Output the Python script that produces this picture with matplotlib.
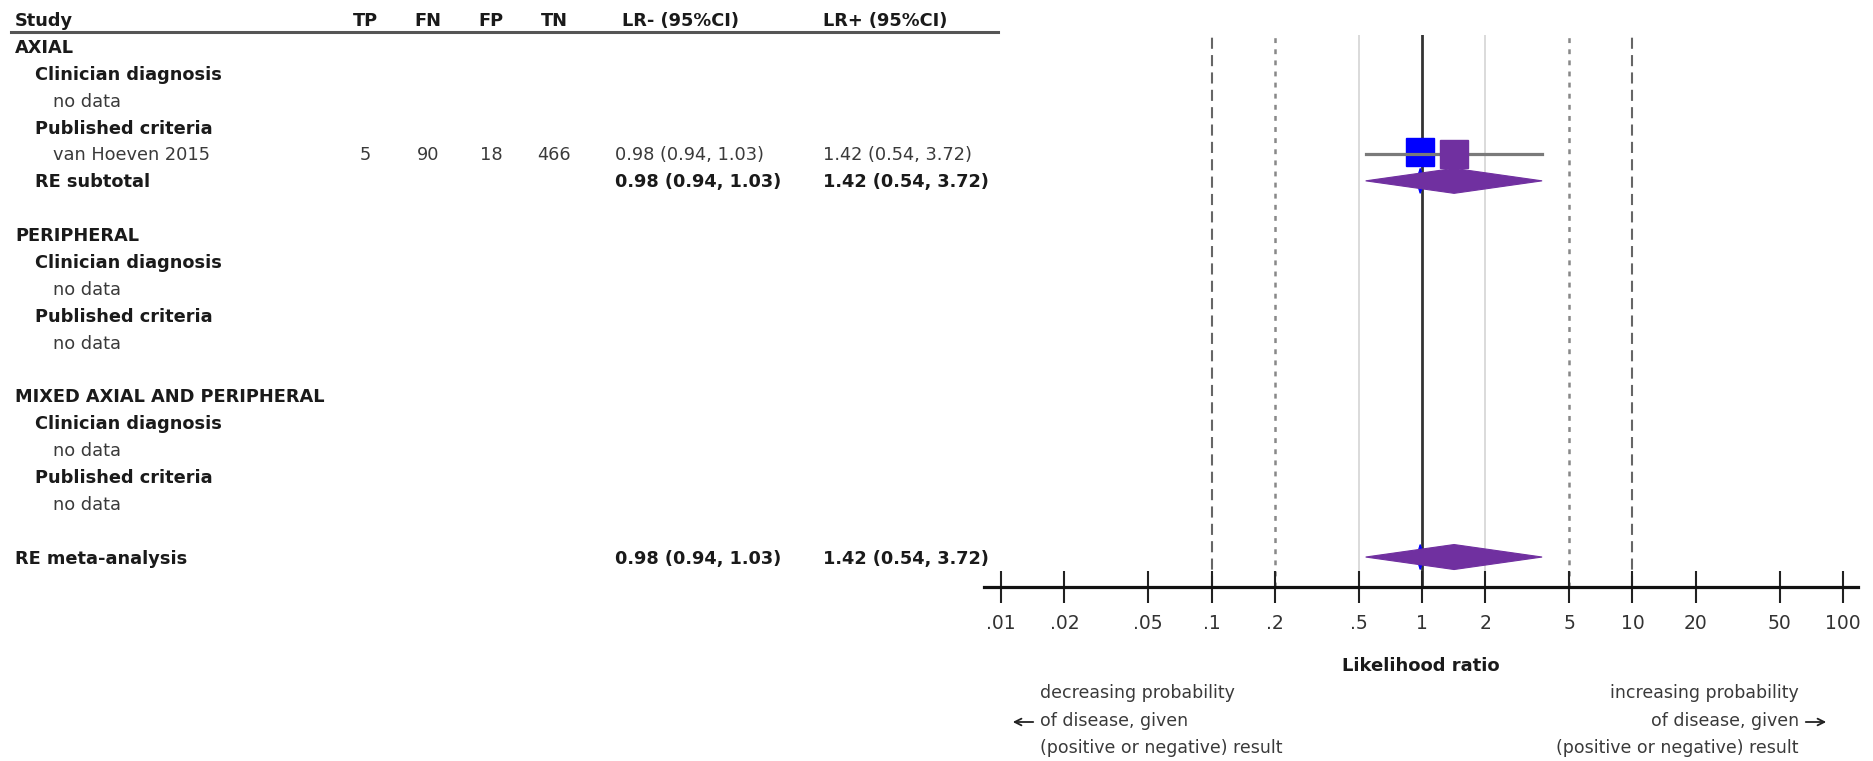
import matplotlib
matplotlib.use("Agg")
import matplotlib.pyplot as plt
from matplotlib.transforms import blended_transform_factory
from matplotlib.patches import Polygon, FancyArrowPatch
from matplotlib.lines import Line2D
from matplotlib.ticker import NullLocator

# ---------------- data ----------------
row_labels = ["AXIAL", "Clinician diagnosis", "no data", "Published criteria",
              "van Hoeven 2015", "RE subtotal", "",
              "PERIPHERAL", "Clinician diagnosis", "no data", "Published criteria", "no data", "",
              "MIXED AXIAL AND PERIPHERAL", "Clinician diagnosis", "no data", "Published criteria", "no data", "",
              "RE meta-analysis"]
row_kinds = ["group", "sub", "nodata", "sub", "study", "subtotal", "blank",
             "group", "sub", "nodata", "sub", "nodata", "blank",
             "group", "sub", "nodata", "sub", "nodata", "blank",
             "overall"]

study_names = ["van Hoeven 2015"]
tp = [5]
fn = [90]
fp = [18]
tn = [466]
lr_neg = [0.98]
lr_neg_lo = [0.94]
lr_neg_hi = [1.03]
lr_pos = [1.42]
lr_pos_lo = [0.54]
lr_pos_hi = [3.72]

subtotal_neg = [0.98, 0.94, 1.03]
subtotal_pos = [1.42, 0.54, 3.72]
overall_neg = [0.98, 0.94, 1.03]
overall_pos = [1.42, 0.54, 3.72]

tick_vals = [0.01, 0.02, 0.05, 0.1, 0.2, 0.5, 1, 2, 5, 10, 20, 50, 100]
tick_labels = [".01", ".02", ".05", ".1", ".2", ".5", "1", "2", "5", "10", "20", "50", "100"]

headers = ["Study", "TP", "FN", "FP", "TN", "LR- (95%CI)", "LR+ (95%CI)"]

# ---------------- layout ----------------
W, H = 1874, 761
plt.rcParams['font.family'] = ['DejaVu Sans']
plt.rcParams['lines.scale_dashes'] = False
fig = plt.figure(figsize=(W / 100, H / 100), dpi=100)

ax_left, ax_right, ax_top, ax_bottom = 984, 1858, 35, 587
ax = fig.add_axes([ax_left / W, 1 - ax_bottom / H, (ax_right - ax_left) / W, (ax_bottom - ax_top) / H])
ax.set_xscale('log')
ax.set_xlim(10 ** -2.081, 10 ** 2.0714)
row0, row_h = 46.5, 26.87
ax.set_ylim((ax_bottom - row0) / row_h, -(row0 - ax_top) / row_h)

for s in ['top', 'left', 'right']:
    ax.spines[s].set_visible(False)
ax.spines['bottom'].set_linewidth(2.3)
ax.spines['bottom'].set_color('#111111')
ax.set_yticks([])
ax.set_xticks(tick_vals)
ax.set_xticklabels(tick_labels)
ax.xaxis.set_minor_locator(NullLocator())
ax.tick_params(axis='x', direction='inout', length=23, width=1.5, pad=8,
               labelsize=13.5, color='#222222', labelcolor='#333333')
ax.patch.set_visible(False)

# reference lines
ref_lines = [(0.1, 'dash'), (0.2, 'dot'), (0.5, 'light'), (1, 'solid'),
             (2, 'light'), (5, 'dot'), (10, 'dash')]
for v, kind in ref_lines:
    if kind == 'dash':
        ax.axvline(v, color='#666666', lw=1.5, linestyle=(0, (8, 4.5)), zorder=1)
    elif kind == 'dot':
        ax.axvline(v, color='#888888', lw=1.8, linestyle=(0, (3.5, 4.5)), zorder=1)
    elif kind == 'light':
        ax.axvline(v, color='#d4d4d4', lw=1.2, zorder=1)
    else:
        ax.axvline(v, color='#333333', lw=2.0, zorder=1)

purple = '#7030A0'
blue = '#0000FF'
dh = 0.465


def diamond(est, lo, hi, y, color, z):
    ax.add_patch(Polygon([(lo, y), (est, y - dh), (hi, y), (est, y + dh)],
                         closed=True, facecolor=color, edgecolor=color, lw=0.8, zorder=z))


# ---------------- text table ----------------
tr = blended_transform_factory(fig.transFigure, ax.transData)
BASE = 0.242
FS = 12.8
indent = {"group": 15, "sub": 35, "nodata": 53, "study": 53, "subtotal": 35, "overall": 15}
col_tp, col_fn, col_fp, col_tn = 365, 428, 491, 554
col_neg_hdr, col_neg_val, col_pos = 622, 615, 823
txt_col = '#1a1a1a'
val_col = '#3a3a3a'


def put(xpx, row, s, bold=False, ha='left', color=txt_col):
    fig.text(xpx / W, row + BASE, s, transform=tr, ha=ha, va='baseline', fontsize=FS,
             fontweight='bold' if bold else 'normal', color=color)


def fmt(e, lo, hi):
    return f"{e:.2f} ({lo:.2f}, {hi:.2f})"


# header
put(15, -1, headers[0], bold=True)
put(col_tp, -1, headers[1], bold=True, ha='center')
put(col_fn, -1, headers[2], bold=True, ha='center')
put(col_fp, -1, headers[3], bold=True, ha='center')
put(col_tn, -1, headers[4], bold=True, ha='center')
put(col_neg_hdr, -1, headers[5], bold=True)
put(col_pos, -1, headers[6], bold=True)
fig.add_artist(Line2D([11 / W, 998 / W], [1 - 32 / H, 1 - 32 / H], lw=2.2, color='#555555'))

si = 0
for r, (lab, kind) in enumerate(zip(row_labels, row_kinds)):
    if kind == 'blank':
        continue
    bold = kind in ('group', 'sub', 'subtotal', 'overall')
    put(indent[kind], r, lab, bold=bold, color=val_col if kind in ('nodata', 'study') else txt_col)
    if kind == 'study':
        put(col_tp, r, str(tp[si]), ha='center', color=val_col)
        put(col_fn, r, str(fn[si]), ha='center', color=val_col)
        put(col_fp, r, str(fp[si]), ha='center', color=val_col)
        put(col_tn, r, str(tn[si]), ha='center', color=val_col)
        put(col_neg_val, r, fmt(lr_neg[si], lr_neg_lo[si], lr_neg_hi[si]), color=val_col)
        put(col_pos, r, fmt(lr_pos[si], lr_pos_lo[si], lr_pos_hi[si]), color=val_col)
        # marks
        ax.plot([lr_neg_lo[si], lr_neg_hi[si]], [r, r], color=blue, lw=2, zorder=2)
        ax.plot([lr_neg[si]], [r - 0.07], marker='s', ms=20, color=blue, mec=blue, zorder=3)
        ax.plot([lr_pos_lo[si], lr_pos_hi[si]], [r, r], color='#7a7a7a', lw=2.3, zorder=4)
        ax.plot([lr_pos[si]], [r], marker='s', ms=20, color=purple, mec=purple, zorder=5)
        si += 1
    elif kind in ('subtotal', 'overall'):
        neg = subtotal_neg if kind == 'subtotal' else overall_neg
        pos = subtotal_pos if kind == 'subtotal' else overall_pos
        put(col_neg_val, r, fmt(*neg), bold=True)
        put(col_pos, r, fmt(*pos), bold=True)
        diamond(neg[0], neg[1], neg[2], r, blue, 6)
        diamond(pos[0], pos[1], pos[2], r, purple, 7)

# axis title and direction notes
fig.text(1421 / W, 1 - 666 / H, "Likelihood ratio", ha='center', va='center',
         fontsize=13, fontweight='bold', color=txt_col)
left_lines = ["decreasing probability", "of disease, given", "(positive or negative) result"]
right_lines = ["increasing probability", "of disease, given", "(positive or negative) result"]
for yp, ls, rs in zip([693, 721, 748], left_lines, right_lines):
    fig.text(1040 / W, 1 - yp / H, ls, ha='left', va='center', fontsize=12.5, color=val_col)
    fig.text(1799 / W, 1 - yp / H, rs, ha='right', va='center', fontsize=12.5, color=val_col)
fig.add_artist(FancyArrowPatch((1036 / W, 1 - 722 / H), (1010 / W, 1 - 722 / H),
                               transform=fig.transFigure, arrowstyle='->', mutation_scale=12,
                               lw=1.3, color='#222222'))
fig.add_artist(FancyArrowPatch((1803 / W, 1 - 722 / H), (1829 / W, 1 - 722 / H),
                               transform=fig.transFigure, arrowstyle='->', mutation_scale=12,
                               lw=1.3, color='#222222'))

fig.savefig("out.png", dpi=100)
